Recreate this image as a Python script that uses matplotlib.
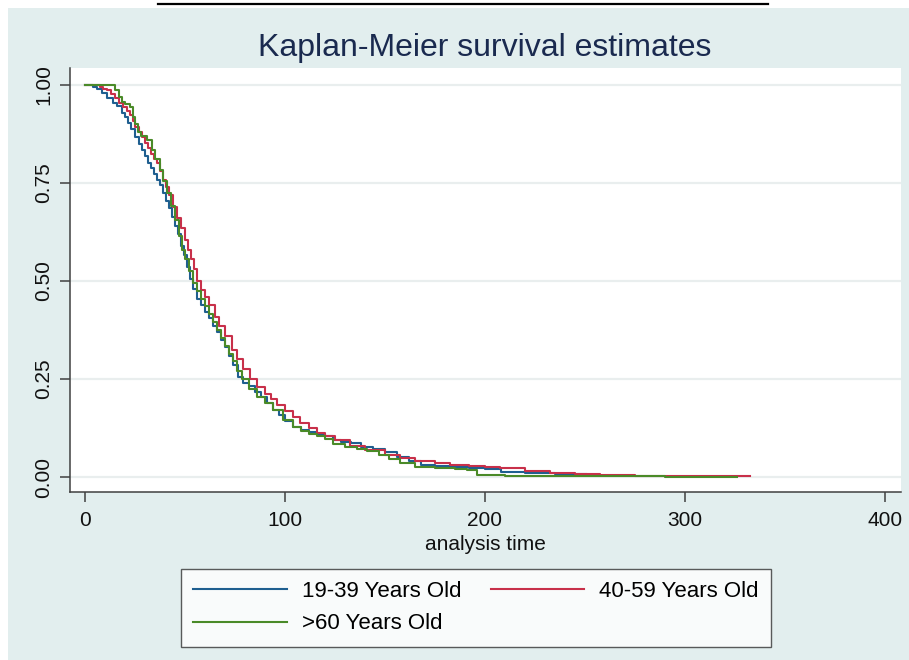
import matplotlib.pyplot as plt
from matplotlib.lines import Line2D
from matplotlib.patches import Rectangle

plt.rcParams['font.family'] = ['Liberation Sans', 'DejaVu Sans']

# Kaplan-Meier step points (time, survival)
young_t = [0, 4, 6, 8.5, 11, 14, 16, 18.5, 20, 21.5, 23, 25, 27, 28.5, 30, 31.5, 33, 34.5, 36, 37.5,
           39, 40.5, 42, 43.5, 45, 46.5, 48, 49.5, 51, 52.5, 54, 56, 58, 60, 62, 64, 66, 68, 70, 72,
           74, 76.5, 79, 82, 85, 88, 91, 94, 97, 100, 104, 108, 112, 116, 120, 124, 128, 133, 138, 144,
           150, 156, 162, 168, 175, 183, 192, 200, 208, 220, 235, 251]
young_s = [1.0, .995, .99, .98, .967, .954, .945, .929, .918, .903, .888, .867, .85, .834, .818, .80, .787, .772, .758, .745,
           .725, .705, .685, .662, .64, .62, .59, .565, .535, .505, .48, .455, .438, .42, .405, .385, .37, .35, .332, .31,
           .285, .255, .24, .232, .218, .205, .19, .172, .158, .142, .128, .12, .114, .11, .105, .095, .09, .086, .078, .072,
           .063, .05, .04, .031, .028, .026, .023, .02, .013, .01, .007, .005]

mid_t = [0, 7.5, 9, 11, 13, 15, 17, 19, 21, 22.5, 24, 25, 27, 28.5, 30, 31.5, 33, 34.5, 36, 37.5,
         39, 40.5, 42, 44, 46, 48, 50, 51.5, 53, 54.5, 56, 58, 60, 62, 65, 67, 70, 73.5, 76, 79,
         82.5, 86, 90, 93, 96, 100, 104, 107.5, 112, 116, 120, 125, 132.5, 140, 150, 157.5, 165, 175, 182.5, 192,
         200, 207.5, 220, 232.5, 245, 257.5, 275, 295, 315, 332.5]
mid_s = [1.0, .995, .99, .987, .977, .967, .955, .944, .933, .923, .908, .893, .88, .867, .853, .84, .825, .812, .80, .78,
         .758, .74, .72, .689, .66, .635, .605, .579, .555, .53, .50, .478, .46, .44, .408, .385, .36, .324, .30, .275,
         .25, .23, .212, .198, .185, .168, .152, .138, .125, .113, .105, .095, .08, .068, .057, .048, .042, .036, .031, .028,
         .026, .023, .016, .01, .007, .005, .004, .003, .002, .002]

old_t = [0, 12.5, 15, 17, 18.5, 20, 22.5, 24, 25, 26.5, 28, 31, 33.5, 35, 37.5, 39, 41, 43, 45, 47,
         48.5, 50, 52, 54, 56, 58, 60, 62, 64, 66, 68, 70, 72, 74, 76, 78.5, 82, 86, 90, 94,
         99, 104, 108, 112, 116, 120, 124, 130, 136, 141, 147, 152, 157.5, 165, 175, 185, 191, 196, 210, 230,
         260, 290, 326]
old_s = [1.0, 1.0, .987, .97, .957, .95, .944, .918, .90, .88, .87, .86, .834, .81, .783, .755, .724, .69, .655, .615,
         .58, .555, .525, .495, .475, .455, .435, .415, .395, .375, .355, .335, .315, .295, .27, .25, .225, .205, .19, .17,
         .145, .128, .118, .11, .105, .098, .085, .077, .072, .066, .056, .045, .035, .026, .022, .02, .018, .005, .004, .003,
         .002, .001, .001]

labels = ['19-39 Years Old', '40-59 Years Old', '>60 Years Old']
colors = ['#1f5f90', '#c8304a', '#4a8a28']

fig = plt.figure(figsize=(9.09, 6.6), dpi=100, facecolor='white')
fig.add_artist(Rectangle((8/909, 0), 1, 1 - 8/660, transform=fig.transFigure,
                         facecolor='#e2eeee', edgecolor='none', zorder=0))
# cut-off underline of the page text above the chart
fig.add_artist(Line2D([158/909, 768/909], [1 - 4/660, 1 - 4/660], color='black', lw=1.6))

ax = fig.add_axes([70/909, 1 - 492/660, 831/909, 424/660])
ax.set_facecolor('white')

lines = []
for t, s, c, lab in zip([young_t, mid_t, old_t], [young_s, mid_s, old_s], colors, labels):
    ln, = ax.plot(t, s, drawstyle='steps-post', color=c, lw=1.5, label=lab)
    lines.append(ln)

ax.set_xlim(-7.5, 408)
ax.set_ylim(-0.038, 1.043)
ax.set_xticks([0, 100, 200, 300, 400])
ax.set_yticks([0, 0.25, 0.5, 0.75, 1.0])
ax.set_yticklabels(['0.00', '0.25', '0.50', '0.75', '1.00'], rotation=90, va='center')
ax.tick_params(axis='both', direction='out', length=7, width=1.1, color='#404040',
               labelsize=15, labelcolor='#111111')
ax.tick_params(axis='y', pad=5)
ax.tick_params(axis='x', pad=7)
ax.grid(axis='y', color='#e9eeee', lw=1.6)
ax.set_axisbelow(True)
for side in ['top', 'right']:
    ax.spines[side].set_visible(False)
for side in ['left', 'bottom']:
    ax.spines[side].set_color('#404040')
    ax.spines[side].set_linewidth(1.1)

ax.set_xlabel('analysis time', fontsize=15, labelpad=3, color='#111111')
fig.text(485/909, 1 - 48/660, 'Kaplan-Meier survival estimates', fontsize=23,
         color='#1a2a4f', ha='center', va='center')

# order so rows read: 19-39, 40-59 / >60
leg = fig.legend([lines[0], lines[2], lines[1]], [labels[0], labels[2], labels[1]],
                 ncol=2, loc='upper left', bbox_to_anchor=(181/909, 1 - 569/660),
                 fontsize=16, handlelength=4.2, handletextpad=0.7, columnspacing=1.3,
                 frameon=True, fancybox=False, edgecolor='#333333', borderaxespad=0,
                 labelspacing=0.5, borderpad=0.55)
leg.get_frame().set_linewidth(1.0)

fig.savefig('out.png', dpi=100, facecolor=fig.get_facecolor())
